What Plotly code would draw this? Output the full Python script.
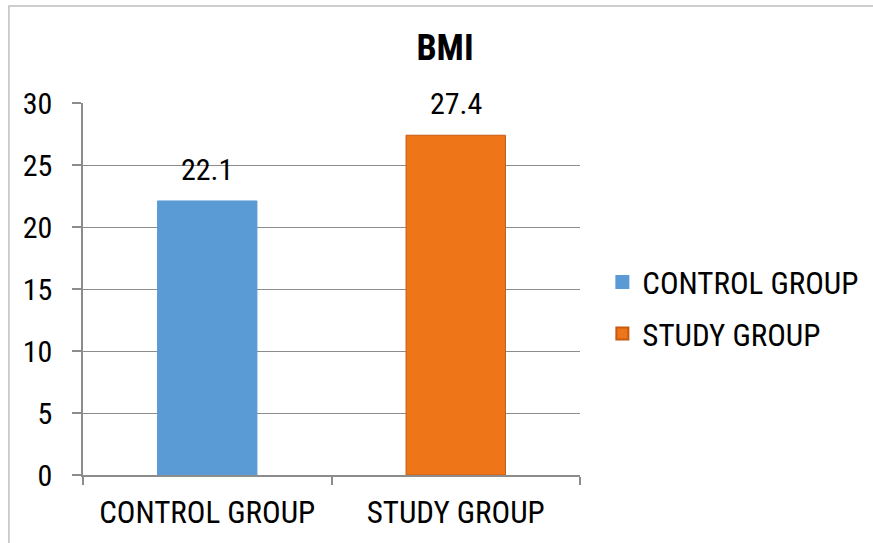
import plotly.graph_objects as go

categories = ["CONTROL GROUP", "STUDY GROUP"]
values = [22.1, 27.4]
series_names = ["CONTROL GROUP", "STUDY GROUP"]
colors = ["#5B9BD5", "#EF7618"]
line_colors = ["#5B9BD5", "#C55A11"]
y_ticks = [0, 5, 10, 15, 20, 25, 30]

FONT = "Liberation Sans Narrow, Arial Narrow, Roboto Condensed, Liberation Sans, Arial, sans-serif"

fig = go.Figure()
for i, (cat, val) in enumerate(zip(categories, values)):
    fig.add_trace(go.Bar(
        x=[cat], y=[val], name=series_names[i],
        marker=dict(color=colors[i], line=dict(color=line_colors[i], width=1)),
        width=0.4, legendgroup=f"g{i}",
    ))
    fig.add_annotation(x=cat, y=val, text=f"{val}", showarrow=False,
                       yanchor="bottom", yshift=12,
                       font=dict(family=FONT, size=30, color="#000"))

fig.add_shape(type="rect", xref="paper", yref="paper",
              x0=-0.149, x1=2.0, y0=-1.0, y1=1.261,
              line=dict(color="#bfbfbf", width=1.5), fillcolor="rgba(0,0,0,0)", layer="below")

fig.update_layout(
    width=873, height=543,
    margin=dict(l=83, r=293, t=103, b=68, autoexpand=False),
    paper_bgcolor="white", plot_bgcolor="white",
    barmode="overlay",
    font=dict(family=FONT, size=30, color="#000"),
    title=dict(text="<b>BMI</b>", x=445/873, xanchor="center", xref="container",
               y=1-47/543, yanchor="middle", yref="container",
               font=dict(family=FONT, size=36, color="#000")),
    showlegend=True,
    legend=dict(x=1.045, xanchor="left", y=0.449, yanchor="middle",
                font=dict(family=FONT, size=31, color="#000"),
                tracegroupgap=8, itemsizing="constant", bgcolor="rgba(0,0,0,0)"),
    xaxis=dict(type="category", showline=True, linecolor="#8c8c8c", linewidth=1.5,
               ticks="outside", tickson="boundaries", ticklen=8, tickcolor="#8c8c8c",
               tickwidth=1.5, showgrid=False, tickfont=dict(size=31),
               ticklabelstandoff=9),
    yaxis=dict(range=[0, 30], tickvals=y_ticks, showline=True, linecolor="#8c8c8c",
               linewidth=1.5, ticks="outside", ticklen=9, tickcolor="#8c8c8c", tickwidth=1.5,
               showgrid=True, gridcolor="#8c8c8c", gridwidth=1, zeroline=False,
               tickfont=dict(size=30), ticklabelstandoff=14),
)

fig.write_html("out.html")
